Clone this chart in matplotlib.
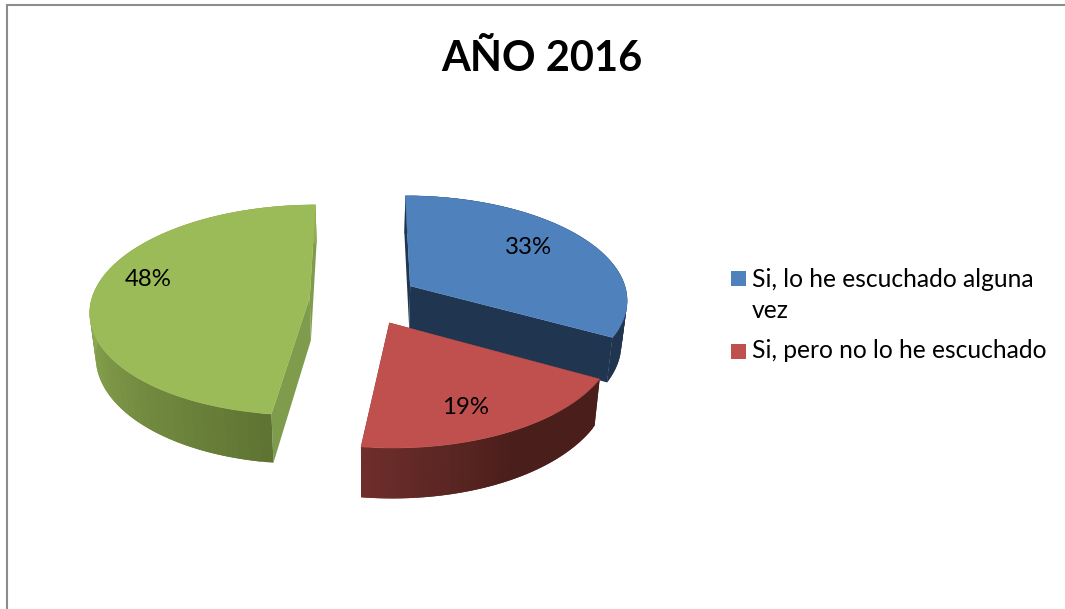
#pie chart with a hand made 3d look
import matplotlib
matplotlib.use("Agg")
import matplotlib.pyplot as plt
import matplotlib.colors as mcolors
from matplotlib.patches import Rectangle
import numpy as np

plt.rcParams['font.family'] = ['Lato', 'DejaVu Sans']

#------------------Data--------------------
title = 'AÑO 2016'
values = [33, 19, 48]
pct_labels = ['33%', '19%', '48%']
legend_lines = ['Si, lo he escuchado alguna', 'vez', 'Si, pero no lo he escuchado']

#------------------Styles------------------
top_colors = ['#4f81bd', '#c0504d', '#9bbb59']
cut_colors = ['#1f3550', '#4a1e1b', '#7e9c4c']
wall_light = ['#1f3550', '#6f2f2c', '#8fac53']
wall_dark = ['#1f3550', '#4a1e1b', '#5f7433']

#projection of the pie plane to pixels
cx, cy = 364, 299
rx, ry = 218, 104
persp = 0.12
explode = 0.25
depth = 43
bottom_scale = 0.978


def project(X, Y, low=False):
	X = np.asarray(X, dtype=float)
	Y = np.asarray(Y, dtype=float)
	w = 1 + persp*Y
	px = rx*X/w
	py = cy - ry*Y/w
	if low:
		px = px*bottom_scale
		py = py + depth/w
	return cx + px, py


def arc(center, a1, a2, n=120):
	#clock angles, 0 is 12 o'clock, going clockwise
	t = np.radians(np.linspace(a1, a2, n))
	return center[0] + np.sin(t), center[1] + np.cos(t)


def face(ax, X, Y, color):
	#flat wall between a line on the top and the same line at the bottom
	x1, y1 = project(X, Y)
	x2, y2 = project(X, Y, low=True)
	ax.fill(np.r_[x1, x2[::-1]], np.r_[y1, y2[::-1]], facecolor=color, edgecolor='none', lw=0)


fig = plt.figure(figsize=(10.65, 6.09), dpi=100)
ax = fig.add_axes([0, 0, 1, 1])
ax.set_xlim(0, 1065)
ax.set_ylim(609, 0)
ax.axis('off')

#border, only top and left are seen
ax.plot([6.5, 6.5, 1065], [609, 4.5, 4.5], color='#8c8c8c', lw=1.5, solid_joinstyle='miter')

total = float(sum(values))
edges = np.r_[0, np.cumsum(values)]/total*360
#gradient range on the outer wall for each slice (light end, dark end)
grad = [(0, 1), (187.2, 150), (270, 187.2)]

slices = []
for i in range(len(values)):
	mid = np.radians((edges[i] + edges[i+1])/2)
	center = (explode*np.sin(mid), explode*np.cos(mid))
	slices.append(center)

#blue first, it is behind the red one. green stands alone
for i in [0, 2, 1]:
	a1, a2 = edges[i], edges[i+1]
	center = slices[i]

	#flat cut faces
	face(ax, [center[0], center[0] + np.sin(np.radians(a1))], [center[1], center[1] + np.cos(np.radians(a1))], cut_colors[i])
	face(ax, [center[0], center[0] + np.sin(np.radians(a2))], [center[1], center[1] + np.cos(np.radians(a2))], cut_colors[i])

	#outer wall, strips overlap a bit so no seams show
	light = np.array(mcolors.to_rgb(wall_light[i]))
	dark = np.array(mcolors.to_rgb(wall_dark[i]))
	ang = np.linspace(a1, a2, 61)
	for j in range(60):
		stop = ang[min(j+2, 60)]
		X, Y = arc(center, ang[j], stop, 4)
		g0, g1 = grad[i]
		if g0 == 0:
			f = 0
		else:
			f = np.clip((ang[j] - g0)/(g1 - g0), 0, 1)
		face(ax, X, Y, mcolors.to_hex(light*(1 - f) + dark*f))

	#top surface
	X, Y = arc(center, a1, a2, 200)
	px, py = project(np.r_[center[0], X], np.r_[center[1], Y])
	ax.fill(px, py, facecolor=top_colors[i], edgecolor=top_colors[i], lw=0.3)

#percent labels
label_pos = [(528, 247.5), (466, 407.5), (148, 280)]
for txt, pos in zip(pct_labels, label_pos):
	ax.text(pos[0], pos[1], txt, fontsize=17.3, color='black', ha='center', va='center')

#title
ax.text(542, 71, title, fontsize=30, fontweight='bold', color='black', ha='center', va='baseline')

#legend
ax.add_patch(Rectangle((731, 271), 15, 15, color=top_colors[0], lw=0))
ax.add_patch(Rectangle((731, 344), 15, 15, color=top_colors[1], lw=0))
ax.text(752, 287, legend_lines[0], fontsize=17.7, ha='left', va='baseline')
ax.text(752, 318, legend_lines[1], fontsize=17.7, ha='left', va='baseline')
ax.text(752, 358, legend_lines[2], fontsize=17.7, ha='left', va='baseline')

fig.savefig('out.png', dpi=100)
